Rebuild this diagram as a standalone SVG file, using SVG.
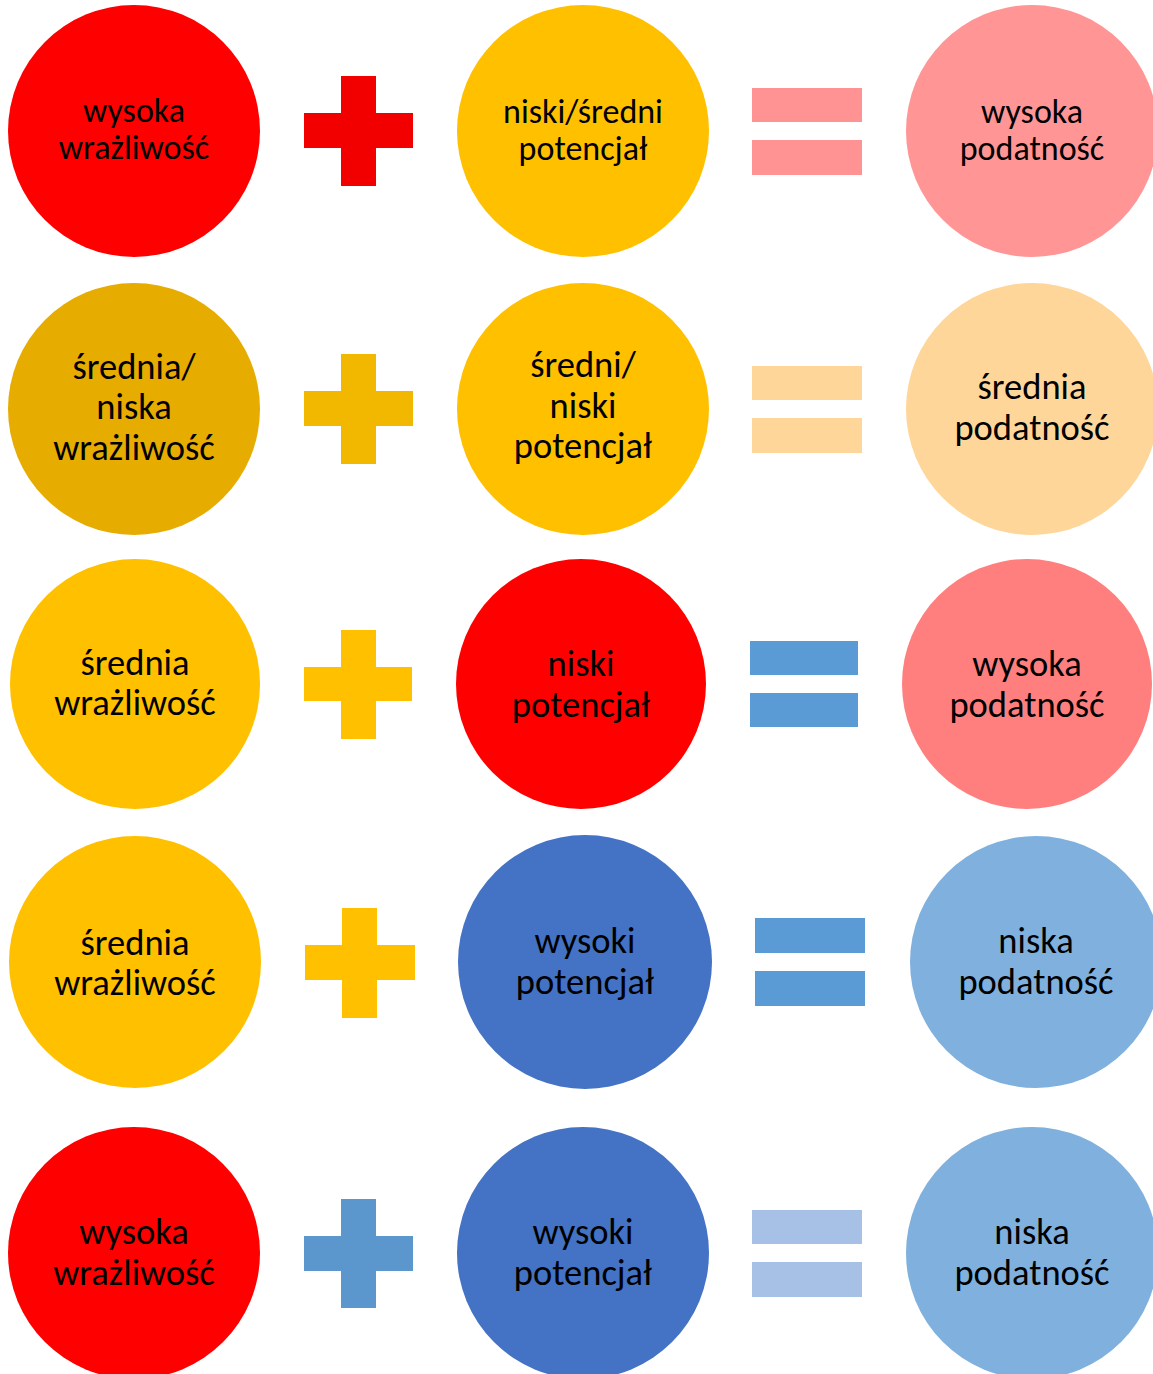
<svg xmlns="http://www.w3.org/2000/svg" width="1153" height="1374" viewBox="0 0 1153 1374">
<style>
text{font-family:Carlito,Lato,"Liberation Sans",sans-serif;fill:#000;text-anchor:middle;}
.t1{font-size:34px;}
.t{font-size:36.5px;}
</style>
<rect width="1153" height="1374" fill="#fff"/>
<g id="row1">
<g id="n1a"><circle cx="134" cy="131" r="126" fill="#FF0000"/><text class="t1" x="134" y="122">wysoka</text><text class="t1" x="134" y="159">wrażliwość</text></g>
<g id="p1"><path d="M341 76H376V113H413V148H376V186H341V148H304V113H341Z" fill="#F20000"/></g>
<g id="n1b"><circle cx="583" cy="131" r="126" fill="#FFC000"/><text class="t1" x="583" y="123">niski/średni</text><text class="t1" x="583" y="160">potencjał</text></g>
<g id="e1"><rect x="752" y="88" width="110" height="34" fill="#FF9393"/><rect x="752" y="140" width="110" height="35" fill="#FF9393"/></g>
<g id="n1c"><circle cx="1032" cy="131" r="126" fill="#FF9595"/><text class="t1" x="1032" y="123">wysoka</text><text class="t1" x="1032" y="160">podatność</text></g>
</g>
<g id="row2">
<g id="n2a"><circle cx="134" cy="409" r="126" fill="#E6AC00"/><text class="t" x="134" y="379">średnia/</text><text class="t" x="134" y="419">niska</text><text class="t" x="134" y="460">wrażliwość</text></g>
<g id="p2"><path d="M341 354H376V391H413V426H376V464H341V426H304V391H341Z" fill="#F2B800"/></g>
<g id="n2b"><circle cx="583" cy="409" r="126" fill="#FFC000"/><text class="t" x="583" y="377">średni/</text><text class="t" x="583" y="418">niski</text><text class="t" x="583" y="458">potencjał</text></g>
<g id="e2"><rect x="752" y="366" width="110" height="34" fill="#FFD699"/><rect x="752" y="418" width="110" height="35" fill="#FFD699"/></g>
<g id="n2c"><circle cx="1032" cy="409" r="126" fill="#FFD699"/><text class="t" x="1032" y="399">średnia</text><text class="t" x="1032" y="440">podatność</text></g>
</g>
<g id="row3">
<g id="n3a"><circle cx="135" cy="684" r="125" fill="#FFC000"/><text class="t" x="135" y="675">średnia</text><text class="t" x="135" y="715">wrażliwość</text></g>
<g id="p3"><path d="M341 630H376V667H412V701H376V739H341V701H304V667H341Z" fill="#FFC000"/></g>
<g id="n3b"><circle cx="581" cy="684" r="125" fill="#FF0000"/><text class="t" x="581" y="676">niski</text><text class="t" x="581" y="717">potencjał</text></g>
<g id="e3"><rect x="750" y="641" width="108" height="34" fill="#5B9BD5"/><rect x="750" y="693" width="108" height="34" fill="#5B9BD5"/></g>
<g id="n3c"><circle cx="1027" cy="684" r="125" fill="#FF7F7F"/><text class="t" x="1027" y="676">wysoka</text><text class="t" x="1027" y="717">podatność</text></g>
</g>
<g id="row4">
<g id="n4a"><circle cx="135" cy="962" r="126" fill="#FFC000"/><text class="t" x="135" y="955">średnia</text><text class="t" x="135" y="995">wrażliwość</text></g>
<g id="p4"><path d="M342 908H377V945H415V980H377V1018H342V980H305V945H342Z" fill="#FFC000"/></g>
<g id="n4b"><circle cx="585" cy="962" r="127" fill="#4472C4"/><text class="t" x="585" y="953">wysoki</text><text class="t" x="585" y="994">potencjał</text></g>
<g id="e4"><rect x="755" y="918" width="110" height="35" fill="#5B9BD5"/><rect x="755" y="971" width="110" height="35" fill="#5B9BD5"/></g>
<g id="n4c"><circle cx="1036" cy="962" r="126" fill="#7FB0DE"/><text class="t" x="1036" y="953">niska</text><text class="t" x="1036" y="994">podatność</text></g>
</g>
<g id="row5">
<g id="n5a"><circle cx="134" cy="1253" r="126" fill="#FF0000"/><text class="t" x="134" y="1244">wysoka</text><text class="t" x="134" y="1285">wrażliwość</text></g>
<g id="p5"><path d="M341 1199H376V1236H413V1271H376V1308H341V1271H304V1236H341Z" fill="#5B96CC"/></g>
<g id="n5b"><circle cx="583" cy="1253" r="126" fill="#4472C4"/><text class="t" x="583" y="1244">wysoki</text><text class="t" x="583" y="1285">potencjał</text></g>
<g id="e5"><rect x="752" y="1210" width="110" height="34" fill="#A6C1E5"/><rect x="752" y="1262" width="110" height="35" fill="#A6C1E5"/></g>
<g id="n5c"><circle cx="1032" cy="1253" r="126" fill="#7FB0DE"/><text class="t" x="1032" y="1244">niska</text><text class="t" x="1032" y="1285">podatność</text></g>
</g>
</svg>
